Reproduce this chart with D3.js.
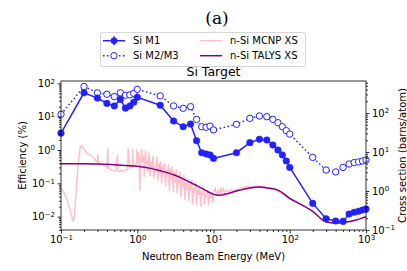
<!DOCTYPE html>
<html>
<head>
<meta charset="utf-8">
<script src="https://cdn.jsdelivr.net/npm/d3@7"></script>
<style>
  body { margin: 0; background: #fff; }
  text { font-family: "DejaVu Sans", sans-serif; }
</style>
</head>
<body>
<svg id="chart" width="407" height="271"></svg>
<script>
// beam energies (MeV) of the measured points
const energies = [0.1, 0.2, 0.3, 0.4, 0.5, 0.6, 0.7, 0.8, 0.9, 1,
  2, 3, 4, 5, 6, 7, 8, 9, 10,
  20, 30, 40, 50, 60, 70, 80, 90, 100,
  200, 300, 400, 500, 600, 700, 800, 900, 1000];
// efficiency (%)
const effM1 = [3.2, 52, 36, 25, 21, 33, 18, 21, 27, 38,
  22, 7.4, 5, 6, 1.9, 0.83, 0.76, 0.71, 0.56,
  0.83, 1.66, 2.1, 2.0, 1.41, 1.0, 0.71, 0.47, 0.30,
  0.025, 0.0087, 0.0074, 0.0072, 0.012, 0.0135, 0.0145, 0.0158, 0.017];
const effM23 = [11.8, 80, 52, 47, 40, 52, 44, 45, 50, 66,
  42, 21, 17.8, 20, 8.3, 5, 4.8, 5.2, 4.0,
  5.9, 8.9, 10.5, 10, 8.3, 6.6, 5, 3.8, 3.0,
  0.6, 0.25, 0.22, 0.30, 0.38, 0.42, 0.44, 0.47, 0.5];

// n-Si TALYS cross section (barns/atom)
const talysE = [0.1, 0.2, 0.3, 0.5, 0.7, 1, 1.5, 2, 3, 4, 5, 6, 7, 8, 9, 10, 12, 15, 20, 30, 40, 50, 70, 100, 150, 200, 300, 400, 500, 700, 1000];
const talysXS = [5.0, 5.0, 4.9, 4.7, 4.5, 4.3, 3.8, 3.3, 2.6, 2.05, 1.65, 1.38, 1.18, 1.02, 0.9, 0.82, 0.78, 0.85, 1.0, 1.2, 1.27, 1.2, 1.05, 0.65, 0.42, 0.3, 0.16, 0.15, 0.155, 0.175, 0.22];

// n-Si MCNP cross section (barns/atom)
const mcnpE = [0.1, 0.11, 0.12, 0.13, 0.14, 0.145, 0.15, 0.16, 0.17, 0.18, 0.19, 0.2, 0.22, 0.25, 0.27, 0.29,
  0.3, 0.305, 0.31, 0.33, 0.36, 0.4, 0.41, 0.42, 0.47, 0.52, 0.55, 0.56, 0.6, 0.61, 0.65, 0.7, 0.75, 0.76,
  0.8, 0.86, 0.87, 0.88, 0.92, 0.97, 0.98, 0.99,
  1.0, 1.03, 1.06, 1.08, 1.10, 1.14, 1.17, 1.21, 1.24, 1.28, 1.31, 1.35, 1.39, 1.43, 1.47, 1.52, 1.56, 1.61,
  1.65, 1.70, 1.75, 1.80, 1.86, 1.91, 1.97, 2.03, 2.09, 2.15, 2.21, 2.28, 2.35, 2.42, 2.49, 2.56, 2.64, 2.72,
  2.80, 2.88, 2.97, 3.06, 3.15, 3.24, 3.34, 3.44, 3.54, 3.64, 3.75, 3.86, 3.98, 4.10, 4.22, 4.34, 4.47, 4.60,
  4.74, 4.88, 5.03, 5.18, 5.33, 5.49, 5.65, 5.82, 6.0, 6.2, 6.4, 6.6, 6.8, 7.0, 7.2, 7.4, 7.6, 7.9, 8.1, 8.4,
  8.6, 8.9, 9.2, 9.5, 9.8, 10, 10.5, 11, 11.5, 12, 12.5, 13, 13.5, 14, 15, 16, 17, 18, 20, 25, 30, 40, 50, 60, 80, 100, 130, 150];
const mcnpXS = [1.2, 0.9, 0.6, 0.35, 0.2, 0.17, 0.22, 1.5, 6, 14, 14.5, 12, 9, 8, 7, 5.8,
  5.5, 9, 5.4, 5, 4.6, 4.0, 12.5, 3.8, 3.4, 3.2, 8.5, 3.2, 3.3, 3.2, 3.3, 3.4, 3.6, 12.5,
  3.9, 4.2, 11.5, 4.3, 4.5, 4.8, 11.5, 5,
  5.5, 10, 4.6, 1.0, 4.2, 12, 5.5, 8, 2.3, 11, 4.8, 6, 3.0, 9.5, 2.4, 5.5, 3.6, 8,
  2.1, 4.2, 3.0, 7.5, 1.9, 5.2, 2.8, 5.8, 1.5, 4.6, 2.6, 5.2, 1.3, 3.4, 2.3, 4.8, 1.0, 3.6,
  2.0, 4.2, 0.9, 3.0, 1.7, 3.6, 0.85, 2.4, 1.5, 3.2, 0.7, 2.2, 1.3, 2.6, 0.6, 1.8, 1.1, 2.0,
  0.55, 1.5, 1.0, 1.9, 0.45, 1.2, 0.9, 1.7, 0.42, 1.1, 0.8, 1.4, 0.4, 0.95, 0.75, 1.2, 0.45, 0.85, 0.7, 1.05,
  0.42, 0.8, 0.65, 0.95, 0.5, 0.9, 1.15, 0.75, 1.1, 0.8, 1.2, 0.9, 1.15, 0.88, 1.05, 0.95, 1.1, 1.0, 1.08, 1.25, 1.3, 1.32, 1.25, 1.15, 0.85, 0.62, 0.48, 0.42];

const majorEff = [1e-2, 1e-1, 1e0, 1e1, 1e2];
const majorXS = [1e-1, 1e0, 1e1, 1e2];
const majorE = [1e-1, 1e0, 1e1, 1e2, 1e3];

const blue = '#2222ff';
const plotLeft = 61, plotRight = 366, plotTop = 81, plotBottom = 230;

const svg = d3.select('#chart');

const x = d3.scaleLog().domain([0.1, 1000]).range([plotLeft, plotRight]);
const yEff = d3.scaleLog().domain([Math.pow(10, -2.4), Math.pow(10, 2.07)]).range([plotBottom, plotTop]);
const yXS = d3.scaleLog().domain([0.1, Math.pow(10, 2.82)]).range([plotBottom, plotTop]);

function minors(domain) {
  const out = [];
  const lo = Math.floor(Math.log10(domain[0])), hi = Math.ceil(Math.log10(domain[1]));
  for (let e = lo; e < hi; e++) {
    for (let m = 2; m < 10; m++) {
      const v = m * Math.pow(10, e);
      if (v >= domain[0] && v <= domain[1]) out.push(v);
    }
  }
  return out;
}

function powerLabels(g) {
  g.selectAll('.tick text').each(function (d) {
    const t = d3.select(this);
    const e = Math.round(Math.log10(d));
    t.text('');
    t.append('tspan').text('10');
    t.append('tspan').attr('dy', '-0.5em').attr('font-size', '7px')
      .text(e < 0 ? '\u2212' + (-e) : String(e));
  });
}

function styleAxis(g) {
  g.select('.domain').remove();
  g.selectAll('.tick line').attr('stroke', '#000').attr('stroke-width', 0.8);
  g.selectAll('.tick text').attr('font-size', '10px').attr('fill', '#000');
}

// clip for data
svg.append('clipPath').attr('id', 'plot-clip')
  .append('rect').attr('x', plotLeft).attr('y', plotTop)
  .attr('width', plotRight - plotLeft).attr('height', plotBottom - plotTop);

const plot = svg.append('g').attr('clip-path', 'url(#plot-clip)');

// cross sections
const xsLine = d3.line().x(d => x(d[0])).y(d => yXS(d[1]));
plot.append('path')
  .datum(mcnpE.map((e, i) => [e, mcnpXS[i]]))
  .attr('d', xsLine)
  .attr('fill', 'none')
  .attr('stroke', 'pink')
  .attr('stroke-width', 1.5);
plot.append('path')
  .datum(talysE.map((e, i) => [e, talysXS[i]]))
  .attr('d', xsLine.curve(d3.curveMonotoneX))
  .attr('fill', 'none')
  .attr('stroke', 'purple')
  .attr('stroke-width', 1.5);

// efficiencies
const effLine = d3.line().x(d => x(d[0])).y(d => yEff(d[1]));
const m1 = energies.map((e, i) => [e, effM1[i]]);
const m23 = energies.map((e, i) => [e, effM23[i]]);

plot.append('path').datum(m23).attr('d', effLine)
  .attr('fill', 'none').attr('stroke', blue).attr('stroke-width', 1.5)
  .attr('stroke-dasharray', '1.5,2.5');
plot.append('path').datum(m1).attr('d', effLine)
  .attr('fill', 'none').attr('stroke', blue).attr('stroke-width', 1.5);

const marks = svg.append('g');
marks.selectAll('.m23').data(m23).enter().append('circle')
  .attr('class', 'm23')
  .attr('cx', d => x(d[0])).attr('cy', d => yEff(d[1])).attr('r', 3.2)
  .attr('fill', '#fff').attr('stroke', blue).attr('stroke-width', 1);
marks.selectAll('.m1').data(m1).enter().append('circle')
  .attr('class', 'm1')
  .attr('cx', d => x(d[0])).attr('cy', d => yEff(d[1])).attr('r', 3.3)
  .attr('fill', blue).attr('stroke', blue).attr('stroke-width', 0.5);

// axes
const gx = svg.append('g').attr('transform', `translate(0,${plotBottom})`)
  .call(d3.axisBottom(x).tickValues(majorE).tickSize(3.5).tickPadding(2.5));
powerLabels(gx); styleAxis(gx);
const gxm = svg.append('g').attr('transform', `translate(0,${plotBottom})`)
  .call(d3.axisBottom(x).tickValues(minors(x.domain())).tickSize(2).tickFormat(''));
styleAxis(gxm);

const gy = svg.append('g').attr('transform', `translate(${plotLeft},0)`)
  .call(d3.axisLeft(yEff).tickValues(majorEff).tickSize(3.5).tickPadding(2.5));
powerLabels(gy); styleAxis(gy);
const gym = svg.append('g').attr('transform', `translate(${plotLeft},0)`)
  .call(d3.axisLeft(yEff).tickValues(minors(yEff.domain())).tickSize(2).tickFormat(''));
styleAxis(gym);

const gy2 = svg.append('g').attr('transform', `translate(${plotRight},0)`)
  .call(d3.axisRight(yXS).tickValues(majorXS).tickSize(3.5).tickPadding(2.5));
powerLabels(gy2); styleAxis(gy2);
const gy2m = svg.append('g').attr('transform', `translate(${plotRight},0)`)
  .call(d3.axisRight(yXS).tickValues(minors(yXS.domain())).tickSize(2).tickFormat(''));
styleAxis(gy2m);

// frame
svg.append('rect')
  .attr('x', plotLeft).attr('y', plotTop)
  .attr('width', plotRight - plotLeft).attr('height', plotBottom - plotTop)
  .attr('fill', 'none').attr('stroke', '#000').attr('stroke-width', 0.8);

// labels
const midX = (plotLeft + plotRight) / 2, midY = (plotTop + plotBottom) / 2;
svg.append('text').attr('x', midX).attr('y', 260)
  .attr('text-anchor', 'middle').attr('font-size', '10px').text('Neutron Beam Energy (MeV)');
svg.append('text').attr('transform', `translate(26,${midY}) rotate(-90)`)
  .attr('text-anchor', 'middle').attr('font-size', '10px').text('Efficiency (%)');
svg.append('text').attr('transform', `translate(405.5,${midY}) rotate(-90)`)
  .attr('text-anchor', 'middle').attr('font-size', '10px').text('Cross section (barns/atom)');
svg.append('text').attr('x', midX).attr('y', 76)
  .attr('text-anchor', 'middle').attr('font-size', '12.5px').text('Si Target');
svg.append('text').attr('x', 217).attr('y', 24)
  .attr('text-anchor', 'middle').attr('font-size', '17px')
  .style('font-family', '"DejaVu Serif", serif').text('(a)');

// legend
const legend = svg.append('g');
legend.append('rect')
  .attr('x', 100.5).attr('y', 32.5).attr('width', 205).attr('height', 34).attr('rx', 2)
  .attr('fill', '#fff').attr('fill-opacity', 0.8).attr('stroke', '#ccc').attr('stroke-width', 0.8);

const rows = [
  { x: 103, y: 40.7, label: 'Si M1', kind: 'm1' },
  { x: 103, y: 55.7, label: 'Si M2/M3', kind: 'm23' },
  { x: 200, y: 40.7, label: 'n-Si MCNP XS', kind: 'pink' },
  { x: 200, y: 55.7, label: 'n-Si TALYS XS', kind: 'purple' },
];
rows.forEach(r => {
  const g = legend.append('g').attr('transform', `translate(${r.x},${r.y})`);
  const line = g.append('line').attr('x1', 0).attr('x2', 22).attr('y1', 0).attr('y2', 0)
    .attr('stroke-width', 1.5);
  if (r.kind === 'm1') {
    line.attr('stroke', blue);
    g.append('line').attr('x1', 11).attr('x2', 11).attr('y1', -4.5).attr('y2', 4.5)
      .attr('stroke', blue).attr('stroke-width', 1.5);
    g.append('circle').attr('cx', 11).attr('r', 3.3).attr('fill', blue);
  } else if (r.kind === 'm23') {
    line.attr('stroke', blue).attr('stroke-dasharray', '1.5,2.5');
    g.append('circle').attr('cx', 11).attr('r', 3.2).attr('fill', '#fff')
      .attr('stroke', blue).attr('stroke-width', 1);
  } else {
    line.attr('stroke', r.kind);
  }
  g.append('text').attr('x', 30).attr('y', 3.6).attr('font-size', '10px').text(r.label);
});
</script>
</body>
</html>
